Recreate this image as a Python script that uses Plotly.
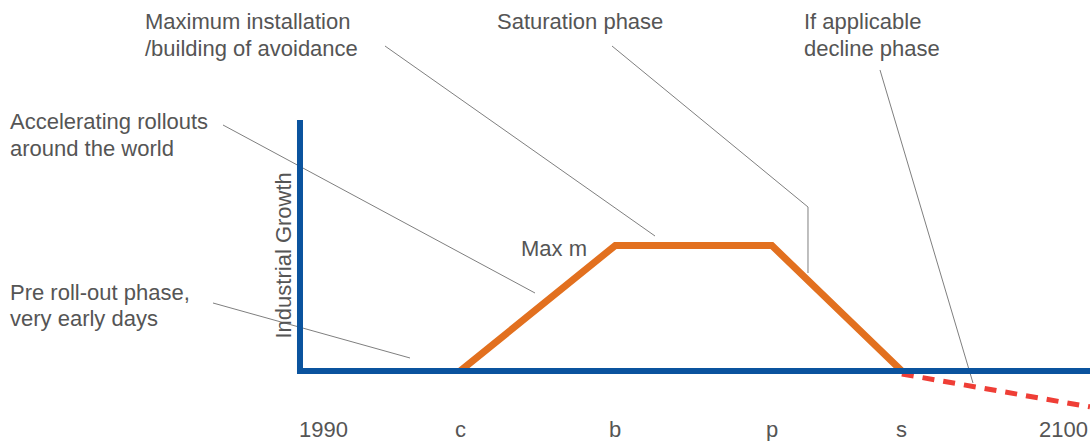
import plotly.graph_objects as go

# x in years, y in relative "industrial growth" units (axis top = 100)
tick_years = [1990, 2012.3, 2033.9, 2055.7, 2073.8, 2100]
tick_labels = ["1990", "c", "b", "p", "s", "2100"]

growth_years = [2012.3, 2033.9, 2055.7, 2073.8]
growth_values = [0, 50, 50, 0]

decline_years = [2073.8, 2100]
decline_values = [-1.2, -14.3]

axis_top = 100

W, H = 1090, 441
X0, X1 = 1948.23, 2100.0
Y0, Y1 = -27.89, 147.81

BLUE = "#0a539e"
ORANGE = "#e2701f"
RED = "#ef3e36"
TEXT = "#555555"
LEADER = "#7f7f7f"
FONT = "Liberation Sans, Arial, sans-serif"
FS = 22


def px(x, y):
    # pixel position -> paper fraction (margins are zero)
    return x / W, 1 - y / H


fig = go.Figure()

fig.add_trace(go.Scatter(
    x=growth_years, y=growth_values, mode="lines",
    line=dict(color=ORANGE, width=7), hoverinfo="skip"))
fig.add_trace(go.Scatter(
    x=decline_years, y=decline_values, mode="lines",
    line=dict(color=RED, width=5, dash="12px,9px"), hoverinfo="skip"))
# axes drawn as thick lines
fig.add_trace(go.Scatter(
    x=[tick_years[0], tick_years[0], tick_years[-1]], y=[axis_top, 0, 0],
    mode="lines", line=dict(color=BLUE, width=6), hoverinfo="skip"))

# leader lines (pixel positions of callouts)
leaders = [
    [(385, 46), (655, 236)],
    [(612, 46), (808, 207), (808, 273)],
    [(880, 70), (973, 383)],
    [(223, 125), (535, 293)],
    [(213, 303), (410, 358)],
]
for pts in leaders:
    path = ""
    for i, (a, b) in enumerate(pts):
        u, v = px(a, b)
        path += ("M" if i == 0 else " L") + f"{u:.5f},{v:.5f}"
    fig.add_shape(type="path", path=path, xref="paper", yref="paper",
                  line=dict(color=LEADER, width=1), layer="below")

callouts = [
    (["Maximum installation", "/building of avoidance"], 143, 22),
    (["Saturation phase"], 495, 22),
    (["If applicable", "decline phase"], 802, 22),
    (["Accelerating rollouts", "around the world"], 8, 122),
    (["Pre roll-out phase,", "very early days"], 8, 292),
]
for lines, x, y in callouts:
    for k, line in enumerate(lines):
        u, v = px(x, y + 26.5 * k)
        fig.add_annotation(text=line, x=u, y=v, xref="paper", yref="paper",
                           xanchor="left", yanchor="middle", align="left",
                           showarrow=False, font=dict(size=FS, color=TEXT, family=FONT))

u, v = px(519, 248)
fig.add_annotation(text="Max m", x=u, y=v, xref="paper", yref="paper",
                   xanchor="left", yanchor="middle", showarrow=False,
                   font=dict(size=FS, color=TEXT, family=FONT))

u, v = px(268, 256)
fig.add_annotation(text="Industrial Growth", x=u, y=v, xref="paper", yref="paper",
                   textangle=-90, showarrow=False,
                   font=dict(size=FS, color=TEXT, family=FONT))

for i, (yr, lab) in enumerate(zip(tick_years, tick_labels)):
    anchor = "left" if i == 0 else ("right" if i == len(tick_years) - 1 else "center")
    fig.add_annotation(text=lab, x=yr, y=-23.5, xref="x", yref="y",
                       xanchor=anchor, yanchor="middle", showarrow=False, xshift=-3 if i == 0 else 0,
                       font=dict(size=FS, color=TEXT, family=FONT))

fig.update_layout(
    width=W, height=H,
    margin=dict(l=0, r=0, t=0, b=0),
    paper_bgcolor="white", plot_bgcolor="white",
    showlegend=False,
    xaxis=dict(range=[X0, X1], visible=False, fixedrange=True),
    yaxis=dict(range=[Y0, Y1], visible=False, fixedrange=True),
)

fig.write_html("out.html", config={"displayModeBar": False},
               post_script="document.body.style.margin='0';")
